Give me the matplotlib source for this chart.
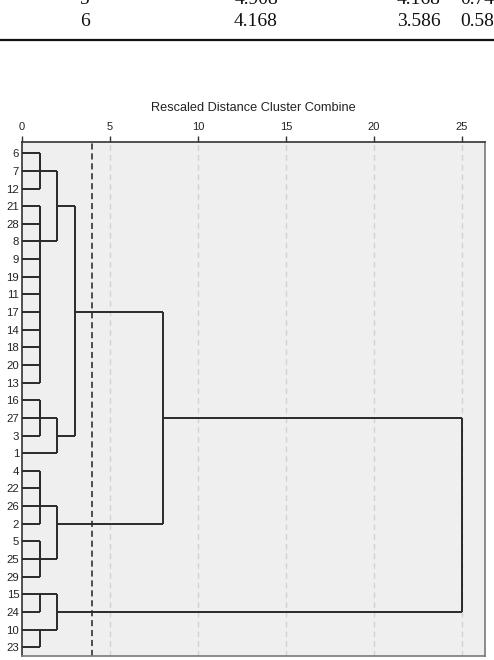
import matplotlib
matplotlib.use("Agg")
import matplotlib.pyplot as plt
import numpy as np

plt.rcParams['font.family'] = ['Liberation Sans', 'DejaVu Sans']

# Table rows cut at the top of the page
table_rows = [["5", "4.908", "4.168", "0.74"],
              ["6", "4.168", "3.586", "0.58"]]

# Leaf order (top to bottom) of the dendrogram
leaves = ["6", "7", "12", "21", "28", "8", "9", "19", "11", "17", "14", "18",
          "20", "13", "16", "27", "3", "1", "4", "22", "26", "2", "5", "25",
          "29", "15", "24", "10", "23"]

# Merges: new cluster i is called "m<i>"
merge_left = ["6", "m0", "21", "m2", "20", "18", "14", "17", "11", "19", "9",
              "m3", "m1", "16", "m13", "m14", "m12", "4", "m17", "m18", "5",
              "m20", "m19", "m16", "15", "10", "m24", "m23"]
merge_right = ["7", "12", "28", "8", "13", "m4", "m5", "m6", "m7", "m8", "m9",
               "m10", "m11", "27", "3", "1", "m15", "22", "26", "2", "25",
               "29", "m21", "m22", "24", "23", "m25", "m26"]
merge_height = [1, 1, 1, 1, 1, 1, 1, 1, 1, 1, 1,
                1, 2, 1, 1, 2, 3, 1, 1, 1, 1,
                1, 2, 8, 1, 1, 2, 25]

cut_value = 4
x_ticks = [0, 5, 10, 15, 20, 25]

fig = plt.figure(figsize=(4.94, 6.6), dpi=100)

# table fragment
col_x = [85, 256, 419, 477]
row_y = [-0.5, 21.5]
for r, row in enumerate(table_rows):
    for c, txt in enumerate(row):
        fig.text(col_x[c] / 494, 1 - row_y[r] / 660, txt, ha='center', va='center',
                 fontsize=14, family='Liberation Serif', color='#111111')
fig.add_artist(plt.Line2D([0, 1], [1 - 39.5 / 660, 1 - 39.5 / 660], color='#111111', lw=1.6))

ax = fig.add_axes([22 / 494, 4 / 660, 463 / 494, 514 / 660])
ax.set_facecolor('#efefef')

pos = {lab: i for i, lab in enumerate(leaves)}
hgt = {lab: 0 for lab in leaves}
line_kw = dict(color='#2a2a2a', lw=1.4, solid_capstyle='butt', zorder=3)
for i, (a, b, h) in enumerate(zip(merge_left, merge_right, merge_height)):
    ya, yb = pos[a], pos[b]
    ax.plot([hgt[a], h], [ya, ya], **line_kw)
    ax.plot([hgt[b], h], [yb, yb], **line_kw)
    ax.plot([h, h], [ya, yb], **line_kw)
    name = "m%d" % i
    pos[name] = int(np.floor((ya + yb) / 2))
    hgt[name] = h

for t in x_ticks[1:]:
    ax.axvline(t, color='#d2d2d2', lw=1, ls=(0, (4, 3)), zorder=1)
ax.axvline(cut_value, color='#222222', lw=1.1, ls=(0, (4, 2.5)), zorder=2)

ax.set_xlim(0, 26.3)
ax.set_ylim(28.5, -0.64)
ax.xaxis.tick_top()
ax.set_xticks(x_ticks)
ax.tick_params(axis='x', length=4.3, width=1, color='#333333', pad=3, labelsize=8,
               labelcolor='#222222')
ax.set_yticks(range(len(leaves)))
ax.set_yticklabels(leaves)
ax.tick_params(axis='y', length=0, pad=2, labelsize=8.2, labelcolor='#222222')

for s in ['top', 'left']:
    ax.spines[s].set_color('#333333')
    ax.spines[s].set_linewidth(1.2)
for s in ['right', 'bottom']:
    ax.spines[s].set_color('#7a7a7a')
    ax.spines[s].set_linewidth(1.2)

ax.text(0.5, 1 + 34 / 514, "Rescaled Distance Cluster Combine", transform=ax.transAxes,
        ha='center', va='center', fontsize=9.2, color='#222222')

fig.savefig("out.png", dpi=100)
